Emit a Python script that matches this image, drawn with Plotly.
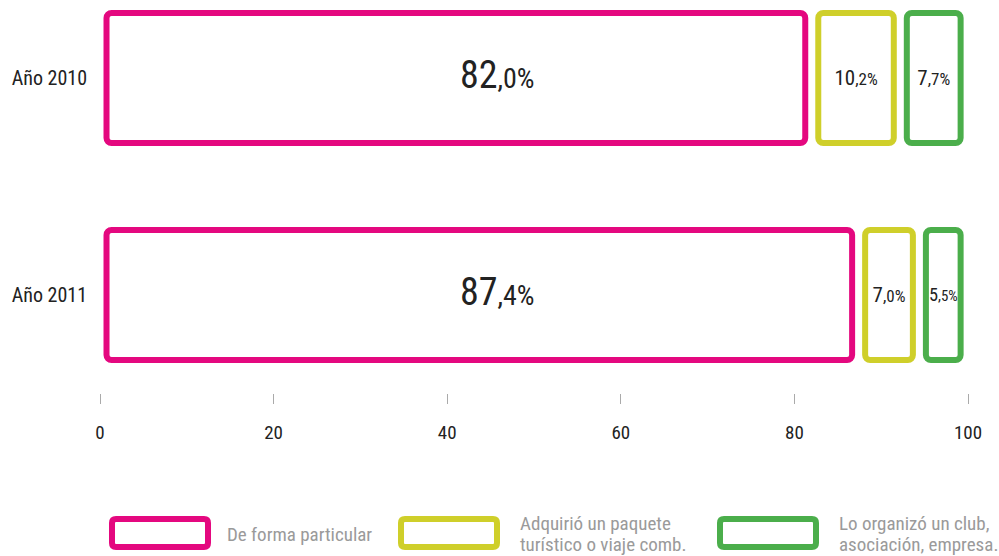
import plotly.graph_objects as go

# ---------------- data ----------------
years = ["Año 2010", "Año 2011"]
series_names = ["De forma particular",
                "Adquirió un paquete turístico o viaje comb.",
                "Lo organizó un club, asociación, empresa."]
legend_lines = [["De forma particular"],
                ["Adquirió un paquete", "turístico o viaje comb."],
                ["Lo organizó un club,", "asociación, empresa."]]
particular = [82.0, 87.4]
paquete = [10.2, 7.0]
club = [7.7, 5.5]
x_ticks = [0, 20, 40, 60, 80, 100]

# ---------------- style ----------------
colors = ["#e4087f", "#cfcf2a", "#4bae4b"]
FONT = "Liberation Sans Narrow, Arial Narrow, Roboto Condensed, DejaVu Sans Condensed, sans-serif"
W, H = 999, 556
ML, MR, MT, MB = 100, 31, 0, 163
PW, PH = W - ML - MR, H - MT - MB
label_sizes = [(38, 28), (21, 17), (21, 17)]
inset = 0.75          # visual gap between segments (data units)
main_label_x = 45.8   # the big labels share one horizontal position in the original


def fmt(v, big, small):
    s = f"{v:.1f}".split(".")
    return (f"<span style='font-size:{big}px'>{s[0]}</span>"
            f"<span style='font-size:{small}px'>,{s[1]}%</span>")


fig = go.Figure()
all_series = [particular, paquete, club]
cum = [0.0] * len(years)
annotations = []
for i, vals in enumerate(all_series):
    big, small = label_sizes[i]
    labels = [fmt(v, big, small) for v in vals]
    fig.add_trace(go.Bar(
        y=years,
        x=[v - 2 * inset for v in vals],
        base=[c + inset for c in cum],
        orientation="h",
        name=series_names[i],
        width=0.6,
        marker=dict(color="white", line=dict(color=colors[i], width=6), cornerradius=5),
        text=labels if i > 0 else None,
        textposition="inside",
        insidetextanchor="middle",
        constraintext="none",
        textangle=0,
        textfont=dict(family=FONT, color="#222222", size=small),
        customdata=vals,
        hovertemplate="%{y}: %{customdata:.1f}%<extra>" + series_names[i] + "</extra>",
        showlegend=False,
    ))
    if i == 0:
        for yr, lab in zip(years, labels):
            annotations.append(dict(
                text=lab, x=main_label_x, y=yr, xref="x", yref="y",
                xanchor="center", yanchor="middle", showarrow=False, yshift=3,
                font=dict(family=FONT, size=small, color="#222222"),
            ))
    cum = [c + v for c, v in zip(cum, vals)]


def px_to_paper_x(px):
    return (px - ML) / PW


def px_to_paper_y(py):
    return (MT + PH - py) / PH


def rounded_rect(w, h, r):
    x0, x1, y0, y1 = -w / 2, w / 2, -h / 2, h / 2
    return (f"M {x0 + r} {y0} L {x1 - r} {y0} Q {x1} {y0} {x1} {y0 + r} "
            f"L {x1} {y1 - r} Q {x1} {y1} {x1 - r} {y1} "
            f"L {x0 + r} {y1} Q {x0} {y1} {x0} {y1 - r} "
            f"L {x0} {y0 + r} Q {x0} {y0} {x0 + r} {y0} Z")


# custom legend
legend_box_cx = [160, 449, 768]
legend_text_x = [225, 518, 837]
legend_cy = 533
shapes = []
for i in range(3):
    shapes.append(dict(
        type="path", xref="paper", yref="paper",
        xsizemode="pixel", ysizemode="pixel",
        xanchor=px_to_paper_x(legend_box_cx[i]), yanchor=px_to_paper_y(legend_cy),
        path=rounded_rect(96, 28, 4),
        line=dict(color=colors[i], width=6), fillcolor="white", layer="above",
    ))
    lines = legend_lines[i]
    if len(lines) == 1:
        ys = [legend_cy + 1]
    else:
        ys = [legend_cy - 10, legend_cy + 11]
    for ln, yy in zip(lines, ys):
        annotations.append(dict(
            text=ln, xref="paper", yref="paper",
            x=px_to_paper_x(legend_text_x[i]), y=px_to_paper_y(yy),
            xanchor="left", yanchor="middle", showarrow=False,
            font=dict(family=FONT, size=19, color="#9a9a9a"),
        ))

fig.update_layout(
    width=W, height=H,
    margin=dict(l=ML, r=MR, t=MT, b=MB),
    paper_bgcolor="white", plot_bgcolor="white",
    barmode="overlay",
    shapes=shapes, annotations=annotations,
    font=dict(family=FONT, color="#222222"),
)
fig.update_xaxes(
    range=[0, 100], tickvals=x_ticks, ticktext=[str(t) for t in x_ticks],
    showgrid=False, zeroline=False, showline=False,
    ticks="outside", ticklen=10, tickwidth=1, tickcolor="#aaaaaa",
    ticklabelstandoff=12,
    tickfont=dict(family=FONT, size=19, color="#222222"),
)
fig.update_yaxes(
    categoryorder="array", categoryarray=years,
    range=[1.4516, -0.3594],
    showgrid=False, zeroline=False, showline=False, ticks="",
    ticklabelstandoff=12,
    tickfont=dict(family=FONT, size=20, color="#222222"),
)

fig.write_html(
    "out.html",
    config={"displayModeBar": False},
    post_script="document.body.style.margin='0';document.body.style.overflow='hidden';",
)
